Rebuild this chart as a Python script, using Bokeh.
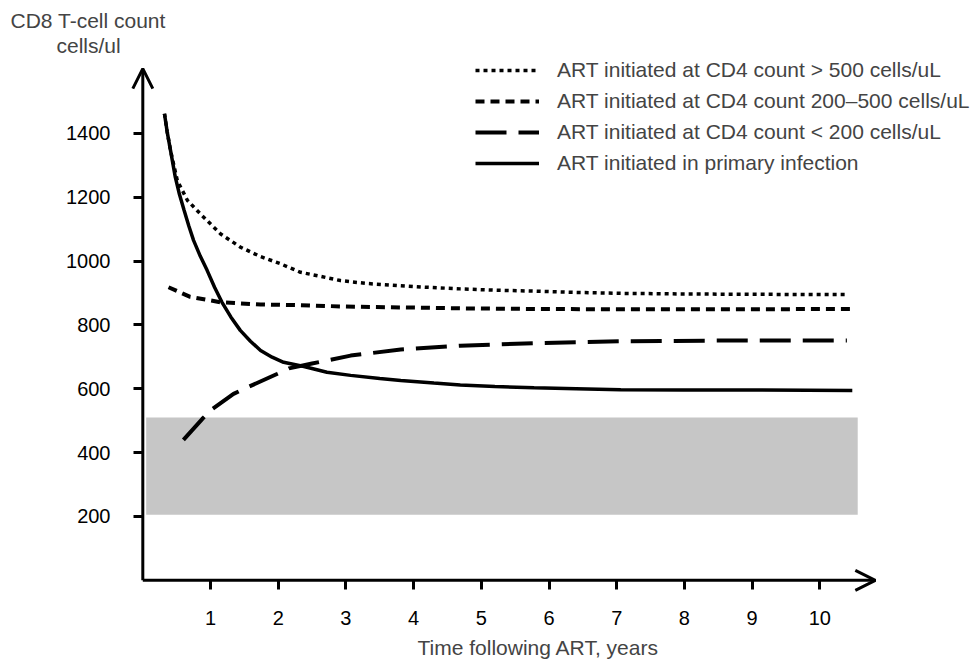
from bokeh.plotting import figure
from bokeh.models import (Range1d, FixedTicker, Arrow, OpenHead, Legend,
                          LegendItem, Title)
from bokeh.embed import file_html
from bokeh.resources import INLINE

# ---------------- data ----------------
x_ticks = [1, 2, 3, 4, 5, 6, 7, 8, 9, 10]
y_ticks = [200, 400, 600, 800, 1000, 1200, 1400]

# ART initiated at CD4 count > 500 cells/uL (dotted)
gt500_x = [0.32, 0.36, 0.41, 0.51, 0.66, 0.85, 1.15, 1.44, 1.74, 2.03, 2.33, 2.63, 2.92,
           3.3, 3.81, 4.2, 4.69, 5.2, 5.78, 6.4, 7.06, 8.0, 9.0, 10.4]
gt500_y = [1462, 1405, 1346, 1252, 1190, 1148, 1085, 1044, 1014, 992, 965, 952, 939,
           930, 923, 918, 913, 909, 906, 902, 899, 897, 896, 895]

# ART initiated at CD4 count 200-500 cells/uL (short dash)
mid_x = [0.38, 0.7, 1.15, 1.74, 2.33, 2.92, 3.8, 4.69, 5.78, 7.06, 8.5, 10.48]
mid_y = [918, 888, 871, 864, 862, 858, 855, 852, 850, 849, 849, 850]

# ART initiated at CD4 count < 200 cells/uL (long dash)
lt200_x = [0.60, 0.88, 1.03, 1.34, 1.57, 1.99, 2.16, 2.50, 3.07, 3.81, 4.69,
           5.78, 7.06, 8.5, 10.4]
lt200_y = [440, 506, 537, 584, 607, 647, 664, 679, 704, 723, 735,
           743, 749, 751, 751]

# ART initiated in primary infection (solid)
prim_x = [0.32, 0.36, 0.41, 0.48, 0.54, 0.61, 0.68, 0.75, 0.85, 0.95, 1.06, 1.17,
          1.3, 1.44, 1.59, 1.74, 1.91, 2.08, 2.38, 2.72, 3.07, 3.5, 3.81, 4.3, 4.69,
          5.2, 5.78, 6.4, 7.06, 8.0, 9.0, 10.48]
prim_y = [1462, 1405, 1346, 1263, 1210, 1159, 1110, 1065, 1015, 971, 918, 871,
          825, 783, 749, 720, 699, 683, 670, 652, 642, 632, 626, 618, 612,
          607, 603, 600, 597, 596, 596, 595]

# normal range band
band_left, band_right = [0.05], [10.56]
band_bottom, band_top = [205], [510]

labels = ["ART initiated at CD4 count > 500 cells/uL",
          "ART initiated at CD4 count 200\u2013500 cells/uL",
          "ART initiated at CD4 count < 200 cells/uL",
          "ART initiated in primary infection"]

X_ARROW = 10.82      # end of the x axis arrow
Y_ARROW = 1603       # end of the y axis arrow
FONT = "Liberation Sans"

# ---------------- figure ----------------
p = figure(width=980, height=668, x_range=Range1d(-0.1817, 12.226),
           y_range=Range1d(-41.35, 1641),
           output_backend="svg", toolbar_location=None,
           min_border_left=130, min_border_right=10, min_border_top=56,
           min_border_bottom=75)
p.title.visible = False
p.xgrid.visible = False
p.ygrid.visible = False
p.outline_line_color = None
p.background_fill_color = "white"

for ax in (p.xaxis, p.yaxis):
    ax.axis_line_color = None
    ax.major_tick_line_width = 3
    ax.major_tick_line_color = "black"
    ax.minor_tick_line_color = None
    ax.minor_tick_out = 0
    ax.minor_tick_in = 0
    ax.major_label_text_font = FONT
    ax.major_label_text_font_size = "20px"
    ax.major_label_text_color = "black"
# the axis lines sit inside the frame (at x=0 / y=0), so the ticks reach inwards
p.yaxis.major_tick_out = -3
p.yaxis.major_tick_in = 12
p.xaxis.major_tick_out = -4
p.xaxis.major_tick_in = 13
p.xaxis.ticker = FixedTicker(ticks=x_ticks)
p.yaxis.ticker = FixedTicker(ticks=y_ticks)
p.xaxis.major_label_standoff = 17
p.yaxis.major_label_standoff = 20

p.quad(left=band_left, right=band_right, bottom=band_bottom, top=band_top,
       fill_color="#c6c6c6", line_color=None)

r1 = p.line(gt500_x, gt500_y, line_color="black", line_width=3.5, line_dash="4 4")
r2 = p.line(mid_x, mid_y, line_color="black", line_width=4, line_dash="9 6")
r3 = p.line(lt200_x, lt200_y, line_color="black", line_width=4, line_dash="31 12")
r4 = p.line(prim_x, prim_y, line_color="black", line_width=3.5)

# axes lines with arrow heads
p.add_layout(Arrow(end=OpenHead(size=20, line_width=3), x_start=0, y_start=0,
                   x_end=0, y_end=Y_ARROW, line_width=3))
p.add_layout(Arrow(end=OpenHead(size=20, line_width=3), x_start=0, y_start=0,
                   x_end=X_ARROW, y_end=0, line_width=3))

legend = Legend(items=[LegendItem(label=labels[0], renderers=[r1]),
                       LegendItem(label=labels[1], renderers=[r2]),
                       LegendItem(label=labels[2], renderers=[r3]),
                       LegendItem(label=labels[3], renderers=[r4])],
                location=(345, 418), glyph_width=64, glyph_height=22,
                label_height=22, label_standoff=18, spacing=7, padding=0, margin=0,
                border_line_color=None, background_fill_alpha=0,
                label_text_font=FONT, label_text_font_size="21px")
p.add_layout(legend)

p.add_layout(Title(text="cells/ul", align="left", offset=-74, standoff=0, text_font=FONT,
                   text_font_size="21px", text_font_style="normal"), "above")
p.add_layout(Title(text="CD8 T-cell count", align="left", offset=-120, standoff=0,
                   text_font=FONT, text_font_size="21px", text_font_style="normal"),
             "above")
p.add_layout(Title(text="Time following ART, years", align="left", offset=287,
                   standoff=12, text_font=FONT, text_font_size="21px",
                   text_font_style="normal"), "below")

open("out.html", "w").write(file_html(p, INLINE))
